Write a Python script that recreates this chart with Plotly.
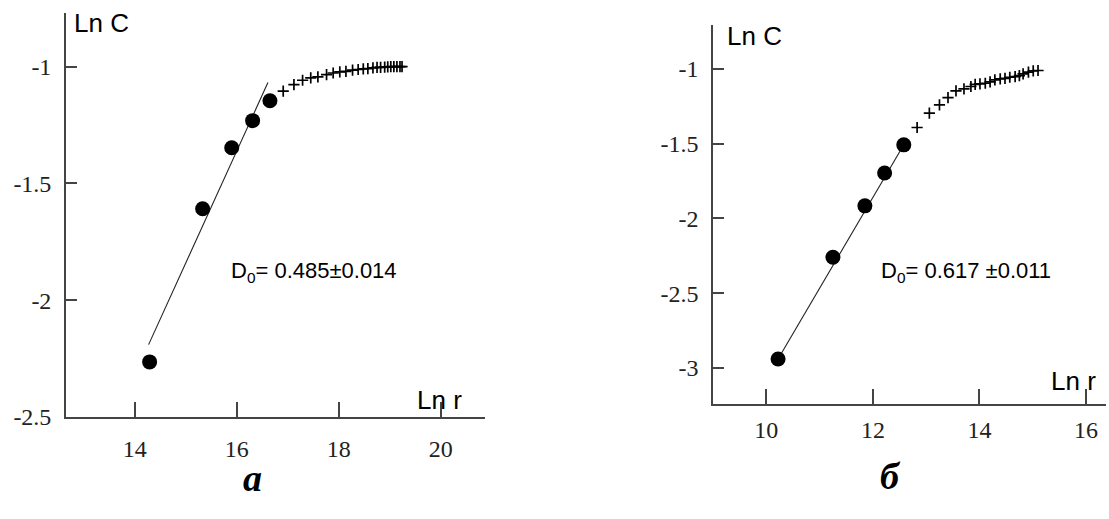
import plotly.graph_objects as go

# ---------- data: panel a ----------
a_fit_x = [14.29, 15.33, 15.90, 16.31, 16.65]
a_fit_y = [-2.264, -1.608, -1.347, -1.231, -1.146]
a_line_x = [14.27, 16.61]
a_line_y = [-2.19, -1.068]
a_rest_x = [16.91, 17.12, 17.29, 17.45, 17.59, 17.76, 17.89, 18.02, 18.14, 18.27,
            18.38, 18.48, 18.57, 18.67, 18.75, 18.82, 18.90, 18.96, 19.02, 19.08,
            19.14, 19.20, 19.24]
a_rest_y = [-1.105, -1.077, -1.058, -1.048, -1.044, -1.034, -1.027, -1.022, -1.020, -1.015,
            -1.012, -1.009, -1.008, -1.005, -1.003, -1.003, -1.002, -1.001, -1.000, -1.000,
            -1.000, -1.000, -1.000]
a_xticks = [14, 16, 18, 20]
a_xticklabels = ["14", "16", "18", "20"]
a_yticks = [-1, -1.5, -2, -2.5]
a_yticklabels = ["-1", "-1.5", "-2", "-2.5"]

# ---------- data: panel б ----------
b_fit_x = [10.22, 11.25, 11.85, 12.22, 12.58]
b_fit_y = [-2.94, -2.26, -1.916, -1.696, -1.508]
b_line_x = [10.22, 12.58]
b_line_y = [-2.94, -1.508]
b_rest_x = [12.83, 13.06, 13.25, 13.41, 13.56, 13.71, 13.84, 13.92, 14.01, 14.11,
            14.20, 14.29, 14.39, 14.48, 14.57, 14.67, 14.75, 14.82, 14.92, 15.01, 15.10]
b_rest_y = [-1.392, -1.296, -1.241, -1.192, -1.147, -1.134, -1.118, -1.103, -1.100, -1.096,
            -1.087, -1.074, -1.067, -1.063, -1.056, -1.052, -1.045, -1.033, -1.022, -1.013, -1.011]
b_xticks = [10, 12, 14, 16]
b_xticklabels = ["10", "12", "14", "16"]
b_yticks = [-1, -1.5, -2, -2.5, -3]
b_yticklabels = ["-1", "-1.5", "-2", "-2.5", "-3"]

a_d0 = "D<sub>0</sub>= 0.485±0.014"
b_d0 = "D<sub>0</sub>= 0.617 ±0.011"

fig = go.Figure()

def add_panel(fx, fy, lx, ly, rx, ry, xa, ya):
    fig.add_trace(go.Scatter(x=lx, y=ly, mode="lines", line=dict(color="#222", width=1.1),
                             xaxis=xa, yaxis=ya, showlegend=False, hoverinfo="skip"))
    fig.add_trace(go.Scatter(x=fx, y=fy, mode="markers",
                             marker=dict(symbol="circle", size=15, color="black"),
                             xaxis=xa, yaxis=ya, showlegend=False))
    fig.add_trace(go.Scatter(x=rx, y=ry, mode="markers",
                             marker=dict(symbol="cross-thin", size=8, color="black",
                                         line=dict(color="black", width=1.7)),
                             xaxis=xa, yaxis=ya, showlegend=False))

add_panel(a_fit_x, a_fit_y, a_line_x, a_line_y, a_rest_x, a_rest_y, "x", "y")
add_panel(b_fit_x, b_fit_y, b_line_x, b_line_y, b_rest_x, b_rest_y, "x2", "y2")

tickfont = dict(family="Liberation Serif", size=24, color="#222")
axis_common = dict(showgrid=False, zeroline=False, showline=True, linecolor="#444",
                   linewidth=1.6, ticks="inside", tickcolor="#444", tickwidth=1.6,
                   tickfont=tickfont, mirror=False, automargin=False)

fig.update_layout(
    width=1109, height=519,
    margin=dict(l=0, r=0, t=0, b=0, autoexpand=False),
    paper_bgcolor="white", plot_bgcolor="white",
    xaxis=dict(domain=[0.0595, 0.437], range=[12.65, 20.86], tickvals=a_xticks,
               ticktext=a_xticklabels, anchor="y", ticklen=15, ticklabelstandoff=9,
               **axis_common),
    yaxis=dict(domain=[0.1965, 0.975], range=[-2.5, -0.77], tickvals=a_yticks,
               ticktext=a_yticklabels, anchor="x", ticklen=11, ticklabelstandoff=8,
               **axis_common),
    xaxis2=dict(domain=[0.643, 0.997], range=[9.0, 16.37], tickvals=b_xticks,
                ticktext=b_xticklabels, anchor="y2", ticklen=15, ticklabelstandoff=3,
                **axis_common),
    yaxis2=dict(domain=[0.2216, 0.952], range=[-3.241, -0.706], tickvals=b_yticks,
                ticktext=b_yticklabels, anchor="x2", ticklen=11, ticklabelstandoff=8,
                **axis_common),
)

lab = dict(family="Liberation Sans", size=26, color="black")
d0f = dict(family="Liberation Sans", size=22, color="black")
ann = [
    dict(text="Ln C", x=72 / 1109, y=1 - 23 / 519, font=lab),
    dict(text="Ln r", x=415 / 1109, y=1 - 400 / 519, font=lab),
    dict(text=a_d0, x=229 / 1109, y=1 - 272 / 519, font=d0f),
    dict(text="Ln C", x=725 / 1109, y=1 - 36 / 519, font=lab),
    dict(text="Ln r", x=1049 / 1109, y=1 - 381 / 519, font=lab),
    dict(text=b_d0, x=879 / 1109, y=1 - 272 / 519, font=d0f),
]
annotations = []
for a in ann:
    annotations.append(dict(text=a["text"], x=a["x"], y=a["y"], xref="paper", yref="paper",
                            xanchor="left", yanchor="middle", showarrow=False, font=a["font"]))
cap = dict(family="Liberation Serif", size=38, color="black")
annotations.append(dict(text="<b><i>а</i></b>", x=252 / 1109, y=1 - 478 / 519, xref="paper",
                        yref="paper", xanchor="center", yanchor="middle", showarrow=False, font=cap))
annotations.append(dict(text="<b><i>б</i></b>", x=890 / 1109, y=1 - 476 / 519, xref="paper",
                        yref="paper", xanchor="center", yanchor="middle", showarrow=False, font=cap))
fig.update_layout(annotations=annotations)

fig.write_html("out.html")
